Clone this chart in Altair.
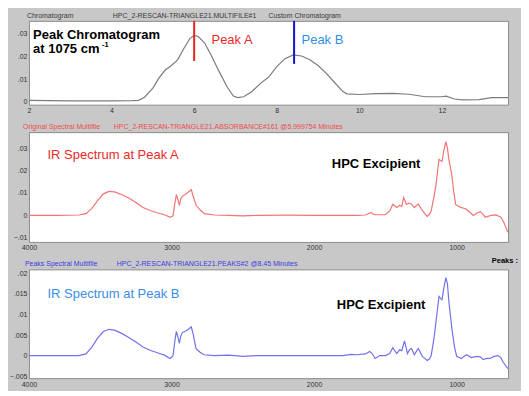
import altair as alt
import pandas as pd

FONT = "Liberation Sans"

# ---------------- data ----------------
# Panel 1: peak chromatogram at 1075 cm-1 (time in minutes, absorbance)
chrom_time = [2.0, 2.5, 3.0, 3.5, 4.0, 4.5, 4.65, 4.8, 5.0, 5.15, 5.3, 5.45, 5.6, 5.75,
              5.9, 6.0, 6.1, 6.25, 6.4, 6.6, 6.8, 6.95, 7.05, 7.2, 7.4, 7.6, 7.8, 8.0,
              8.2, 8.4, 8.6, 8.8, 9.0, 9.2, 9.4, 9.6, 9.7, 10.0, 10.4, 10.8, 11.2, 11.6,
              12.0, 12.1, 12.3, 12.5, 12.9, 13.2, 13.6]
chrom_abs = [0.0006, 0.0005, 0.0004, 0.0004, 0.0004, 0.0005, 0.0006, 0.002, 0.006, 0.0105,
             0.014, 0.016, 0.0185, 0.0235, 0.028, 0.0293, 0.0288, 0.026, 0.021, 0.0135,
             0.0065, 0.0025, 0.0018, 0.0022, 0.0045, 0.008, 0.0108, 0.0155, 0.019, 0.0207,
             0.0202, 0.0185, 0.016, 0.0125, 0.0085, 0.0045, 0.0035, 0.0032, 0.0036, 0.0037,
             0.0033, 0.0022, 0.0022, 0.0025, 0.0012, 0.0008, 0.0009, 0.0018, 0.0018]

# Panel 2: IR spectrum at peak A (wavenumber, absorbance)
specA_wn = [4000, 3800, 3650, 3600, 3560, 3520, 3480, 3440, 3400, 3350, 3300, 3250, 3200,
            3150, 3100, 3050, 3010, 2990, 2975, 2966, 2955, 2945, 2935, 2924, 2900, 2875,
            2862, 2850, 2828, 2800, 2770, 2700, 2600, 2500, 2400, 2200, 2000, 1800, 1700,
            1640, 1600, 1580, 1500, 1470, 1448, 1421, 1400, 1385, 1372, 1352, 1335, 1317,
            1297, 1280, 1269, 1241, 1220, 1207, 1190, 1179, 1160, 1145, 1124, 1110, 1103,
            1090, 1076, 1065, 1055, 1034, 1020, 1007, 990, 972, 950, 931, 910, 883, 860,
            834, 815, 800, 760, 724, 700, 690, 670, 641]
specA_abs = [0.0, 0.0, 0.0002, 0.0008, 0.003, 0.0065, 0.0095, 0.0107, 0.0105, 0.0093, 0.0078,
             0.0058, 0.0035, 0.0022, 0.0012, 0.0003, -0.0008, -0.0002, 0.006, 0.0093, 0.007,
             0.0045, 0.0075, 0.0085, 0.0095, 0.0108, 0.0115, 0.009, 0.0045, 0.0025, 0.0008,
             0.0002, 0.0, -0.0002, 0.0, 0.0001, 0.0, 0.0, 0.0, 0.0002, 0.0013, 0.0003, 0.0003,
             0.002, 0.005, 0.0035, 0.0044, 0.004, 0.008, 0.0049, 0.0055, 0.005, 0.0035, 0.0045,
             0.005, 0.0022, 0.0005, -0.0004, 0.0005, 0.002, 0.008, 0.0138, 0.025, 0.0243, 0.024,
             0.029, 0.0329, 0.03, 0.025, 0.018, 0.01, 0.0049, 0.0042, 0.0036, 0.0032, 0.0027,
             0.0015, 0.0, 0.001, 0.0017, 0.0005, -0.0008, 0.0, 0.0002, -0.0005, -0.0008,
             -0.003, -0.0075]

# Panel 3: IR spectrum at peak B (wavenumber, absorbance)
specB_wn = [4000, 3800, 3650, 3600, 3560, 3520, 3480, 3441, 3400, 3350, 3300, 3250, 3200,
            3150, 3100, 3050, 3010, 2990, 2975, 2966, 2955, 2945, 2935, 2924, 2900, 2875,
            2862, 2850, 2828, 2800, 2772, 2700, 2600, 2500, 2400, 2200, 2000, 1800, 1740,
            1700, 1640, 1610, 1593, 1572, 1540, 1500, 1470, 1448, 1421, 1400, 1385, 1366,
            1345, 1330, 1317, 1297, 1280, 1269, 1241, 1220, 1207, 1190, 1179, 1160, 1145,
            1124, 1110, 1103, 1090, 1076, 1065, 1055, 1034, 1015, 1000, 966, 950, 931, 897,
            860, 834, 814, 790, 766, 740, 710, 690, 676, 641]
specB_abs = [0.0, 0.0, 0.0, 0.0004, 0.002, 0.0042, 0.0058, 0.0064, 0.0062, 0.0054, 0.0044,
             0.0033, 0.0021, 0.0013, 0.0007, 0.0001, -0.0007, -0.0001, 0.004, 0.0059, 0.0045,
             0.003, 0.0048, 0.0056, 0.006, 0.0066, 0.007, 0.0055, 0.0017, 0.0008, 0.0002, 0.0,
             0.0001, -0.0002, 0.0, 0.0, 0.0, 0.0, 0.0003, 0.0002, 0.0004, 0.001, 0.0005,
             -0.0007, 0.0, 0.0, 0.0005, 0.0019, 0.0005, 0.0014, 0.0012, 0.0036, 0.0005, 0.0015,
             0.0017, 0.0002, 0.0012, 0.0017, -0.0002, -0.0008, -0.0012, -0.0008, 0.0, 0.004,
             0.0083, 0.0144, 0.0138, 0.0136, 0.0165, 0.019, 0.0175, 0.0132, 0.0066, 0.002,
             -0.0002, -0.0007, -0.0002, 0.0002, -0.0005, -0.0002, -0.0003, -0.001, -0.0007,
             -0.0007, -0.0002, 0.0, -0.0005, -0.0015, -0.0032]

# Axis ranges and ticks
chrom_x_domain = [2.0, 13.6]
chrom_y_domain = [-0.0013, 0.0357]
chrom_x_ticks = [2, 4, 6, 8, 10, 12]
chrom_y_ticks = [0, 0.01, 0.02, 0.03]

wn_domain = [640, 4000]          # drawn high-to-low (reversed axis)
wn_ticks = [4000, 3000, 2000, 1000]
specA_y_domain = [-0.0118, 0.0371]
specA_y_ticks = [-0.01, 0, 0.01, 0.02, 0.03]
specB_y_domain = [-0.0055, 0.0210]
specB_y_ticks = [-0.005, 0, 0.005, 0.01, 0.015, 0.02]

# Peak markers on the chromatogram
peak_names = ["Peak A", "Peak B"]
peak_times = [6.0, 8.42]
peak_marker_bottom = [0.018, 0.0167]

W = 480
H1, H2, H3 = 84, 110, 109

YLABEL = "replace(format(datum.value, '.3~f'), '0.', '.')"


def xs(domain, reverse=False):
    return alt.Scale(domain=domain, nice=False, zero=False, reverse=reverse)


def ys(domain):
    return alt.Scale(domain=domain, nice=False, zero=False)


def x_enc(field, scale, ticks):
    return alt.X(f"{field}:Q", scale=scale,
                 axis=alt.Axis(values=ticks, tickCount=20, format="d", title=None,
                               labelFlush=False, labelOverlap=False))


def y_enc(field, scale, ticks):
    return alt.Y(f"{field}:Q", scale=scale,
                 axis=alt.Axis(values=ticks, tickCount=20, labelExpr=YLABEL, title=None,
                               labelOverlap=False))


def header(labels, pxs, color, y=-5, bold=False, align="left", size=7):
    df = pd.DataFrame({"label": labels, "px": pxs})
    return alt.Chart(df).mark_text(
        align=align, baseline="middle", font=FONT, fontSize=size, color=color,
        fontWeight="bold" if bold else "normal"
    ).encode(x=alt.X("px:Q", scale=None), y=alt.value(y), text="label:N")


def note(label, x, y, fx, fy, sx, sy, color, bold=False, size=13, dx=0, dy=0):
    df = pd.DataFrame({fx: [x], fy: [y], "label": [label]})
    return alt.Chart(df).mark_text(
        align="left", baseline="middle", font=FONT, fontSize=size, color=color,
        fontWeight="bold" if bold else "normal", dx=dx, dy=dy
    ).encode(x=alt.X(f"{fx}:Q", scale=sx), y=alt.Y(f"{fy}:Q", scale=sy),
             text="label:N")


# ---------------- panel 1 ----------------
sx1, sy1 = xs(chrom_x_domain), ys(chrom_y_domain)
chrom_df = pd.DataFrame({"time": chrom_time, "abs": chrom_abs})
chrom_line = alt.Chart(chrom_df).mark_line(color="#7c7c7c", strokeWidth=1.2).encode(
    x=x_enc("time", sx1, chrom_x_ticks),
    y=y_enc("abs", sy1, chrom_y_ticks),
)
markers_df = pd.DataFrame({"time": peak_times, "abs": [chrom_y_domain[1]] * 2,
                           "abs2": peak_marker_bottom, "name": peak_names})
markers = alt.Chart(markers_df).mark_rule(strokeWidth=2).encode(
    x=alt.X("time:Q", scale=sx1), y=alt.Y("abs:Q", scale=sy1), y2="abs2:Q",
    color=alt.Color("name:N", scale=alt.Scale(domain=peak_names, range=["#e82424", "#1414c8"]),
                    legend=None),
)
p1 = alt.layer(
    chrom_line,
    markers,
    note("Peak Chromatogram", 2.1, 0.0296, "time", "abs", sx1, sy1, "black", bold=True),
    note("at 1075 cm", 2.1, 0.0231, "time", "abs", sx1, sy1, "black", bold=True),
    note("-1", 2.1, 0.0231, "time", "abs", sx1, sy1, "black", bold=True, size=7.5,
         dx=69, dy=-4),
    note("Peak A", 6.42, 0.0273, "time", "abs", sx1, sy1, "#e82a2a"),
    note("Peak B", 8.6, 0.0273, "time", "abs", sx1, sy1, "#2f8fe6"),
    header(["Chromatogram", "HPC_2-RESCAN-TRIANGLE21.MULTIFILE#1", "Custom Chromatogram"],
           [-2, 84, 240], "#3a3a3a"),
).properties(width=W, height=H1)

# ---------------- panel 2 ----------------
sx2, sy2 = xs(wn_domain, reverse=True), ys(specA_y_domain)
specA_df = pd.DataFrame({"wn": specA_wn, "abs": specA_abs})
specA_line = alt.Chart(specA_df).mark_line(color="#f27474", strokeWidth=1.2).encode(
    x=x_enc("wn", sx2, wn_ticks),
    y=y_enc("abs", sy2, specA_y_ticks),
)
p2 = alt.layer(
    specA_line,
    note("IR Spectrum at Peak A", 3870, 0.0271, "wn", "abs", sx2, sy2, "#ec2a2a"),
    note("HPC Excipient", 1876, 0.0231, "wn", "abs", sx2, sy2, "black", bold=True),
    header(["Original Spectral Multifile",
            "HPC_2-RESCAN-TRIANGLE21.ABSORBANCE#161 @5.999754 Minutes"],
           [-6, 85], "#f04a4a"),
).properties(width=W, height=H2)

# ---------------- panel 3 ----------------
sx3, sy3 = xs(wn_domain, reverse=True), ys(specB_y_domain)
specB_df = pd.DataFrame({"wn": specB_wn, "abs": specB_abs})
specB_line = alt.Chart(specB_df).mark_line(color="#7272ee", strokeWidth=1.2).encode(
    x=x_enc("wn", sx3, wn_ticks),
    y=y_enc("abs", sy3, specB_y_ticks),
)
p3 = alt.layer(
    specB_line,
    note("IR Spectrum at Peak B", 3870, 0.0151, "wn", "abs", sx3, sy3, "#3a8ee6"),
    note("HPC Excipient", 1841, 0.0122, "wn", "abs", sx3, sy3, "black", bold=True),
    header(["Peaks Spectral Multifile", "HPC_2-RESCAN-TRIANGLE21.PEAKS#2 @8.45 Minutes"],
           [-4, 88], "#3c3ce2"),
    header(["Peaks :"], [W + 10], "black", y=-8, bold=True, align="right", size=7.5),
).properties(width=W, height=H3)

chart = alt.vconcat(p1, p2, p3, spacing=27.5, bounds="flush").properties(
    padding={"left": 0, "top": 2.5, "right": 2, "bottom": 2}
).configure(
    background="#c8c8c8"
).configure_view(
    stroke="#8c8c8c", strokeWidth=1, fill="white"
).configure_axis(
    grid=False, domain=False, ticks=False, labelFont=FONT, labelFontSize=7,
    labelColor="#333333", labelPadding=2
)

chart.save("out.html", embed_options={"renderer": "svg", "actions": False})
